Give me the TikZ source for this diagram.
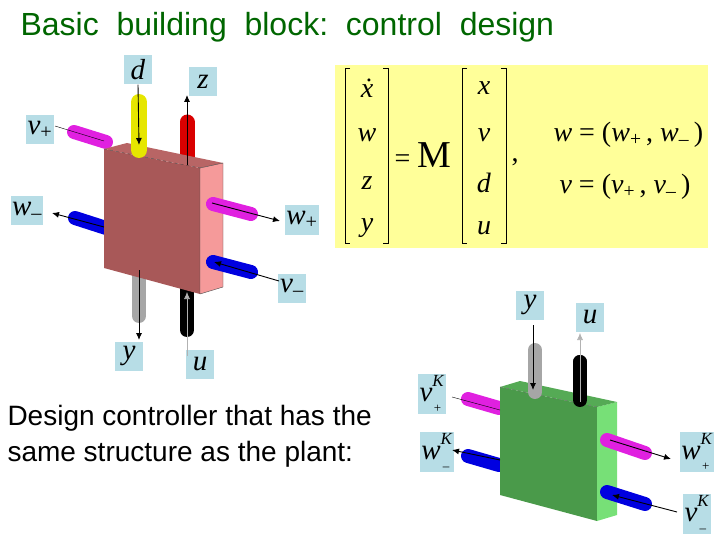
\documentclass[tikz,border=0pt]{standalone}
\usepackage{fontspec}
\setmainfont{Liberation Sans}
\newfontfamily\tms{Liberation Serif}
\usetikzlibrary{arrows.meta}
\newcommand\iv[1]{\textit{#1}}
\newcommand\sbs[2]{\textit{#1}\textsubscript{#2}}
\newcommand\kks[2]{\textit{#1}\raisebox{0.5em}{\fontsize{17}{17}\selectfont\textit{K}}\llap{\raisebox{-0.4em}{\fontsize{13}{13}\selectfont #2\hspace{0.25em}}}}
\begin{document}
\begin{tikzpicture}[x=1pt,y=-1pt,
 lbl/.style={fill=lb,inner sep=1pt,minimum width=28pt,minimum height=29pt,font=\fontsize{29}{29}\tms\selectfont},
 mt/.style={font=\fontsize{28}{28}\tms\selectfont},
 br/.style={line width=0.9pt},
 rod/.style={line width=#1,line cap=round},
 arr/.style={-{Latex[length=7pt,width=6pt]},line width=0.9pt,black},
 ln/.style={thin,black}]
\definecolor{lb}{HTML}{B7DDE6}
\definecolor{ttl}{HTML}{006600}
\definecolor{yl}{HTML}{FFFF99}
\definecolor{pf}{HTML}{A85858}
\definecolor{ps}{HTML}{F59A9A}
\definecolor{pt}{HTML}{B86565}
\definecolor{gf}{HTML}{4A9A4A}
\definecolor{gs}{HTML}{77E077}
\definecolor{gt}{HTML}{55AA55}
\definecolor{mg}{HTML}{E020E0}
\definecolor{bl}{HTML}{0000E0}
\definecolor{ye}{HTML}{E6E600}
\useasboundingbox (0,0) rectangle (720,540);
\node[anchor=west,text=ttl,font=\fontsize{32}{34}\selectfont] (title) at (17,27) {Basic\ \ building\ \ block:\ \ control\ \ design};
% matrix
\fill[yl] (335,65) rectangle (708,248);
\node[mt] (m1) at (367,88) {\iv{\.x}};
\node[mt] (m2) at (367,135) {\iv{w}};
\node[mt] (m3) at (367,183) {\iv{z}};
\node[mt] (m4) at (367,228) {\iv{y}};
\node[mt] (n1) at (484,88) {\iv{x}};
\node[mt] (n2) at (484,135) {\iv{v}};
\node[mt] (n3) at (484,183) {\iv{d}};
\node[mt] (n4) at (484,228) {\iv{u}};
\draw[br] (350,68) -- (345,68) -- (345,243) -- (350,243);
\draw[br] (383,68) -- (388,68) -- (388,243) -- (383,243);
\draw[br] (467,68) -- (462,68) -- (462,243) -- (467,243);
\draw[br] (501,68) -- (506,68) -- (506,243) -- (501,243);
\node[mt,anchor=west] (eqM) at (391,155) {= {\fontsize{38}{38}\selectfont M}};
\node[mt] (cm) at (515,162) {,};
\node[mt,anchor=west] (wd) at (550,135) {\iv{w} = (\sbs{w}{+}\,, \sbs{w}{–}\,)};
\node[mt,anchor=west] (vd) at (556,187) {\iv{v} = (\sbs{v}{+}\,, \sbs{v}{–}\,)};
% plant rods behind
\draw[rod=16pt,ye] (139,102) -- (139,150);
\draw[rod=15pt,red!85!black] (187,122) -- (187,160);
\draw[rod=14pt,mg] (74,132) -- (106,142);
\draw[rod=14pt,bl] (75,218) -- (106,228);
\draw[rod=14pt,gray!70] (139,265) -- (139,316);
\draw[rod=14pt,black] (187,285) -- (187,330);
% plant block
\fill[pf] (104,149) -- (200,168) -- (200,294) -- (104,268) -- cycle;
\fill[ps] (200,168) -- (223,163) -- (223,287) -- (200,294) -- cycle;
\fill[pt] (104,149) -- (127,143) -- (223,163) -- (200,168) -- cycle;
\draw[thin,black!70] (200,168) -- (223,163) -- (223,287) -- (200,294) (200,168) -- (200,294);
\draw[thin,dashed,black!70] (104,149) -- (200,168);
\draw[rod=14pt,mg] (213,204) -- (251,214);
\draw[rod=14pt,bl] (213,262) -- (251,272);
\draw[rod=16pt,ye] (139,110) -- (139,150);
% labels plant
\node[lbl] (d) at (138,70) {\iv{d}};
\node[lbl] (z) at (203,82) {\iv{z}};
\node[lbl] (vp) at (40,130) {\sbs{v}{+}};
\node[lbl] (wm) at (27,211) {\sbs{w}{–}};
\node[lbl] (wp) at (302,220) {\sbs{w}{+}};
\node[lbl] (vm) at (292,288) {\sbs{v}{–}};
\node[lbl] (y) at (129,356) {\iv{y}};
\node[lbl] (u) at (200,364) {\iv{u}};
\coordinate (din) at (139,145);
\coordinate (zout) at (187,165);
\coordinate (vpin) at (104,141);
\coordinate (wmout) at (104,227);
\coordinate (wpout) at (212,203);
\coordinate (vmin) at (214,262);
\coordinate (yout) at (139,270);
\coordinate (uin) at (187,292);
\draw[arr] (d.south) -- (din);
\draw[arr] (zout) -- (187,95);
\draw[ln] (55,126) -- (vpin);
\draw[arr] (wmout) -- (52,213);
\draw[arr] (wpout) -- (280,221);
\draw[arr] (279,281) -- (vmin);
\draw[arr] (yout) -- (139,340);
\draw[arr,gray!60,line width=0.6pt] (187,356) -- (uin);
% text
\node[anchor=west,font=\fontsize{28}{30}\selectfont,align=left] (txt) at (4,436) {Design controller that has the\\[6pt]same structure as the plant:};
% controller
\draw[rod=14pt,gray!70] (535,352) -- (535,390);
\draw[rod=14pt,black] (580,362) -- (580,402);
\draw[rod=14pt,mg] (468,399) -- (499,408);
\draw[rod=14pt,bl] (468,456) -- (499,465);
\fill[gf] (500,387) -- (597,407) -- (597,521) -- (500,495) -- cycle;
\fill[gs] (597,407) -- (617,402) -- (617,515) -- (597,521) -- cycle;
\fill[gt] (500,387) -- (520,381) -- (617,402) -- (597,407) -- cycle;
\draw[thin,dashed,black!60] (500,387) -- (597,407);
\draw[rod=14pt,mg] (607,440) -- (645,453);
\draw[rod=14pt,bl] (607,492) -- (645,504);
\draw[rod=14pt,gray!70] (535,350) -- (535,392);
\draw[rod=14pt,black] (580,362) -- (580,400);
\node[lbl] (yk) at (530,305) {\iv{y}};
\node[lbl] (uk) at (590,317) {\iv{u}};
\node[lbl,minimum height=40pt] (vpk) at (432,394) {\kks{v}{+}};
\node[lbl,minimum height=40pt] (wmk) at (437,452) {\kks{w}{–}};
\node[lbl,minimum height=40pt] (wpk) at (697,452) {\kks{w}{+}};
\node[lbl,minimum height=40pt] (vmk) at (697,514) {\kks{v}{–}};
\coordinate (yin) at (533,390);
\coordinate (uout) at (580,402);
\coordinate (vpkin) at (500,410);
\coordinate (wmkout) at (500,460);
\coordinate (wpkout) at (610,440);
\coordinate (vmkin) at (612,495);
\draw[arr] (533,325) -- (yin);
\draw[arr,gray!60,line width=0.6pt] (uout) -- (580,333);
\draw[ln] (452,397) -- (vpkin);
\draw[arr] (wmkout) -- (452,450);
\draw[arr] (wpkout) -- (671,459);
\draw[arr] (677,512) -- (vmkin);
\end{tikzpicture}
\end{document}
